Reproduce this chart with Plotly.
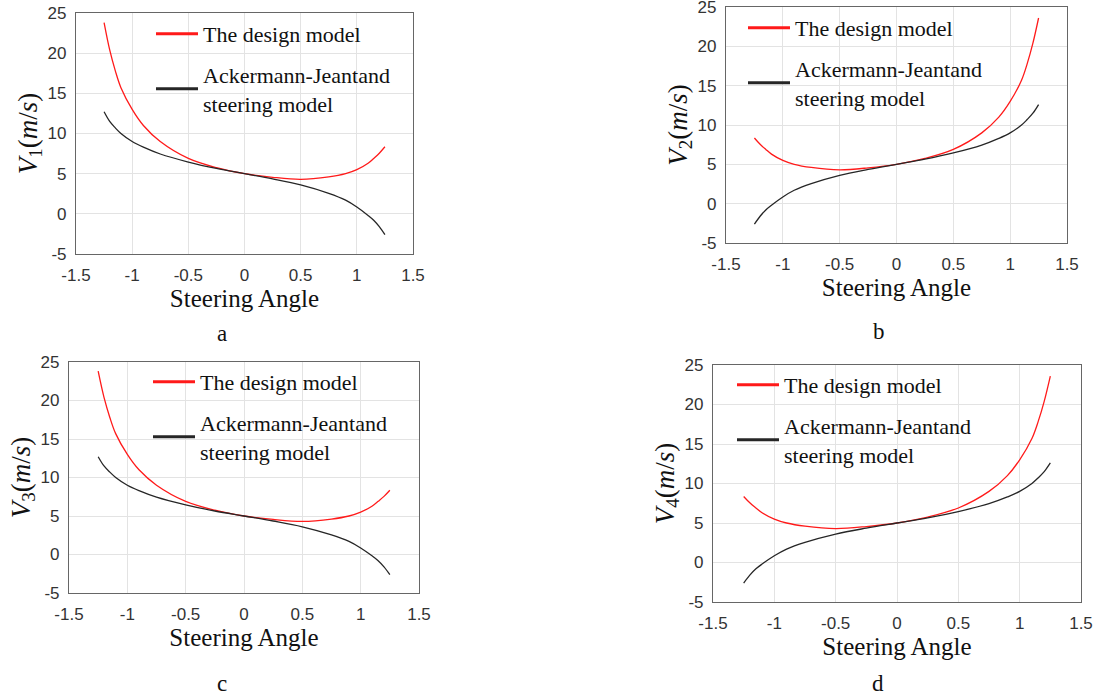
import plotly.graph_objects as go

# ---- data ----
steering_angle = [-1.25, -1.2, -1.15, -1.1, -1.0, -0.9, -0.75, -0.5, -0.25, 0.0,
                  0.25, 0.5, 0.75, 0.9, 1.0, 1.1, 1.15, 1.2, 1.25]

design_v1 = [23.8, 20.4, 17.8, 15.7, 13.0, 11.0, 9.0, 6.9, 5.75, 5.0,
             4.55, 4.3, 4.6, 5.0, 5.5, 6.3, 6.9, 7.55, 8.35]
ackermann_v1 = [12.7, 11.5, 10.7, 10.0, 9.0, 8.3, 7.45, 6.45, 5.65, 5.0,
                4.35, 3.6, 2.55, 1.7, 0.85, -0.2, -0.8, -1.6, -2.6]

design_v2 = [8.35, 7.55, 6.9, 6.3, 5.5, 5.0, 4.6, 4.3, 4.55, 5.0,
             5.75, 6.9, 9.0, 11.0, 13.0, 15.7, 17.8, 20.4, 23.6]
ackermann_v2 = [-2.6, -1.6, -0.8, -0.2, 0.85, 1.7, 2.55, 3.6, 4.35, 5.0,
                5.65, 6.45, 7.45, 8.3, 9.0, 10.0, 10.7, 11.5, 12.6]

design_v3 = [23.8, 20.4, 17.8, 15.7, 13.0, 11.0, 9.0, 6.9, 5.75, 5.0,
             4.55, 4.3, 4.6, 5.0, 5.5, 6.3, 6.9, 7.55, 8.35]
ackermann_v3 = [12.7, 11.5, 10.7, 10.0, 9.0, 8.3, 7.45, 6.45, 5.65, 5.0,
                4.35, 3.6, 2.55, 1.7, 0.85, -0.2, -0.8, -1.6, -2.6]

design_v4 = [8.35, 7.55, 6.9, 6.3, 5.5, 5.0, 4.6, 4.3, 4.55, 5.0,
             5.75, 6.9, 9.0, 11.0, 13.0, 15.7, 17.8, 20.4, 23.6]
ackermann_v4 = [-2.6, -1.6, -0.8, -0.2, 0.85, 1.7, 2.55, 3.6, 4.35, 5.0,
                5.65, 6.45, 7.45, 8.3, 9.0, 10.0, 10.7, 11.5, 12.6]

x_tickvals = [-1.5, -1, -0.5, 0, 0.5, 1, 1.5]
x_ticktext = ["-1.5", "-1", "-0.5", "0", "0.5", "1", "1.5"]
y_tickvals = [-5, 0, 5, 10, 15, 20, 25]
y_ticktext = ["-5", "0", "5", "10", "15", "20", "25"]

series_names = ["The design model", "Ackermann-Jeantand<br>steering model"]
panel_letters = ["a", "b", "c", "d"]
y_titles = ["<i>V</i><sub>1</sub>(<i>m</i>/<i>s</i>)",
            "<i>V</i><sub>2</sub>(<i>m</i>/<i>s</i>)",
            "<i>V</i><sub>3</sub>(<i>m</i>/<i>s</i>)",
            "<i>V</i><sub>4</sub>(<i>m</i>/<i>s</i>)"]

# ---- layout geometry (pixels of a 1101x694 canvas) ----
W, H = 1101, 694
panels = [  # (left, right, top, bottom) of plot area
    (76, 413, 13, 254),
    (726, 1067, 7, 243),
    (69, 419, 362, 593),
    (713, 1081, 365, 602),
]
legend_pos = [(151, 13), (743, 7), (148, 361), (732, 364)]
caption_pos = [(222, 333), (879, 332), (222, 683), (878, 683)]

panel_data = [
    (design_v1, ackermann_v1),
    (design_v2, ackermann_v2),
    (design_v3, ackermann_v3),
    (design_v4, ackermann_v4),
]

SERIF = "Liberation Serif, Times New Roman, serif"
SANS = "Liberation Sans, Arial, sans-serif"
RED = "#ff1a1a"
BLACK = "#262626"

fig = go.Figure()
layout = dict(
    width=W, height=H,
    margin=dict(l=0, r=0, t=0, b=0, autoexpand=False),
    paper_bgcolor="white", plot_bgcolor="white",
    showlegend=True,
    annotations=[],
)

for i, (l, r, t, b) in enumerate(panels):
    idx = "" if i == 0 else str(i + 1)
    xa, ya = "x" + idx, "y" + idx
    leg = "legend" + idx
    design, acker = panel_data[i]
    for j, (vals, col) in enumerate([(design, RED), (acker, BLACK)]):
        fig.add_trace(go.Scatter(
            x=steering_angle, y=vals, mode="lines",
            line=dict(color=col, width=1.3, shape="spline", smoothing=1.0),
            xaxis=xa, yaxis=ya, showlegend=False, hoverinfo="skip",
        ))
        # legend entry with a heavier line sample, as in the reference
        fig.add_trace(go.Scatter(
            x=[None], y=[None], mode="lines", name=series_names[j],
            line=dict(color=col, width=3),
            xaxis=xa, yaxis=ya, legend=leg, legendgroup=f"g{i}{j}",
            showlegend=True,
        ))
    axis_common = dict(
        showline=True, mirror=True, linecolor="#666666", linewidth=1.2,
        showgrid=True, gridcolor="#e3e3e3", gridwidth=1, automargin=False,
        zeroline=False, ticks="outside", ticklen=5, tickcolor="rgba(0,0,0,0)",
        ticklabeloverflow="allow",
        tickfont=dict(family=SANS, size=17, color="#333333"),
    )
    layout["xaxis" + idx] = dict(
        axis_common, domain=[l / W, r / W], anchor=ya, range=[-1.5, 1.5],
        tickvals=x_tickvals, ticktext=x_ticktext,
        title=dict(text="Steering Angle", font=dict(family=SERIF, size=25, color="#111111"), standoff=2),
    )
    layout["yaxis" + idx] = dict(
        axis_common, domain=[1 - b / H, 1 - t / H], anchor=xa, range=[-5, 25],
        tickvals=y_tickvals, ticktext=y_ticktext,
        title=dict(text=y_titles[i], font=dict(family=SERIF, size=27, color="#111111"), standoff=2),
    )
    lx, ly = legend_pos[i]
    layout[leg] = dict(
        x=lx / W, y=1 - ly / H, xanchor="left", yanchor="top",
        bgcolor="rgba(0,0,0,0)", borderwidth=0,
        font=dict(family=SERIF, size=22, color="#111111"),
        tracegroupgap=9, itemwidth=42,
    )
    cx, cy = caption_pos[i]
    layout["annotations"].append(dict(
        text=panel_letters[i], x=cx / W, y=1 - cy / H, xref="paper", yref="paper",
        showarrow=False, font=dict(family=SERIF, size=23, color="#111111"),
        xanchor="center", yanchor="middle",
    ))

fig.update_layout(**layout)
fig.write_html(
    "out.html",
    config={"displayModeBar": False},
    post_script="document.body.style.margin='0px';document.body.style.overflow='hidden';",
)
